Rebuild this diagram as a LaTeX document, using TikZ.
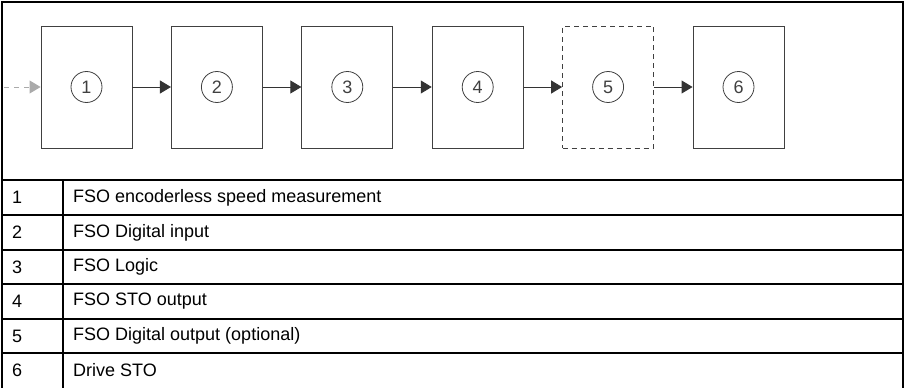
\documentclass[tikz,border=0pt]{standalone}
\usepackage{fontspec}
\setmainfont{Liberation Sans}
\usetikzlibrary{arrows.meta}
\definecolor{boxc}{HTML}{404040}
\definecolor{arrc}{HTML}{333333}
\definecolor{faint}{HTML}{AAAAAA}
\begin{document}
\begin{tikzpicture}[x=1pt,y=-1pt,
  blk/.style={draw=boxc,line width=0.9pt,minimum width=91pt,minimum height=122pt,inner sep=0pt},
  optblk/.style={blk,dash pattern=on 5pt off 4pt},
  num/.style={draw=boxc,line width=0.8pt,circle,minimum size=31pt,inner sep=0pt,font=\fontsize{18}{20}\selectfont,text=boxc},
  flow/.style={draw=arrc,line width=0.9pt,-{Triangle[length=11pt,width=13pt]}},
  ghost/.style={draw=faint,line width=0.9pt,dash pattern=on 5pt off 5pt,-{Triangle[length=11pt,width=13pt,fill=faint]}},
  rule/.style={line width=1.7pt,black},
  cell/.style={anchor=west,inner sep=0pt,font=\fontsize{18}{20}\selectfont}
]
\useasboundingbox (0,0) rectangle (906,388);
% frame
\draw[rule] (2,388) -- (2,2) -- (903,2) -- (903,388);
% blocks
\foreach \i in {1,...,6}{
  \pgfmathsetmacro{\cx}{86.5+130.4*(\i-1)}
  \ifnum\i=5
    \node[optblk] (b\i) at (\cx,87) {};
  \else
    \node[blk] (b\i) at (\cx,87) {};
  \fi
  \node[num] (c\i) at (\cx,87) {\i};
}
\coordinate (src) at (4,87);
\draw[ghost] (src) -- (b1.west);
\foreach \a/\b in {1/2,2/3,3/4,4/5,5/6}{
  \draw[flow] (b\a.east) -- (b\b.west);
}
% table rules
\foreach \y in {180,215,250,284,319,353}{
  \draw[rule] (2,\y) -- (903,\y);
}
\draw[rule] (63,180) -- (63,388);
% table text
\node[cell] (n1) at (12,197.5) {1};
\node[cell] (t1) at (73,197.5) {FSO encoderless speed measurement};
\node[cell] (n2) at (12,232.5) {2};
\node[cell] (t2) at (73,232.5) {FSO Digital input};
\node[cell] (n3) at (12,267) {3};
\node[cell] (t3) at (73,267) {FSO Logic};
\node[cell] (n4) at (12,301.5) {4};
\node[cell] (t4) at (73,301.5) {FSO STO output};
\node[cell] (n5) at (12,336) {5};
\node[cell] (t5) at (73,336) {FSO Digital output (optional)};
\node[cell] (n6) at (12,370.5) {6};
\node[cell] (t6) at (73,370.5) {Drive STO};
\end{tikzpicture}
\end{document}
